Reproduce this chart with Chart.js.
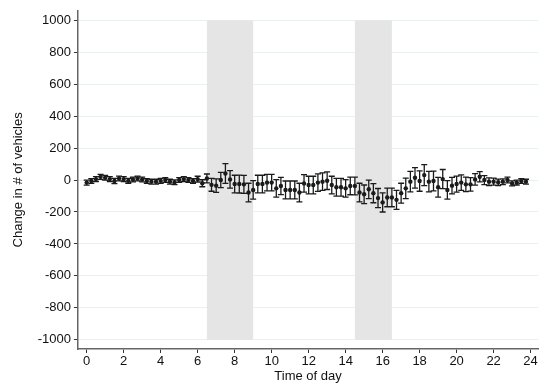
<!DOCTYPE html>
<html>
<head>
<meta charset="utf-8">
<script src="https://cdn.jsdelivr.net/npm/chart.js@4.4.1/dist/chart.umd.min.js"></script>
<style>
  html, body { margin: 0; padding: 0; background: #fff; }
  #wrap { width: 542px; height: 387px; }
</style>
</head>
<body>
<div id="wrap"><canvas id="chart"></canvas></div>
<script>
// time of day (hours), one estimate every 15 minutes
const hours = [
  0, 0.25, 0.5, 0.75, 1, 1.25, 1.5, 1.75, 2, 2.25, 2.5, 2.75,
  3, 3.25, 3.5, 3.75, 4, 4.25, 4.5, 4.75, 5, 5.25, 5.5, 5.75,
  6, 6.25, 6.5, 6.75, 7, 7.25, 7.5, 7.75, 8, 8.25, 8.5, 8.75,
  9, 9.25, 9.5, 9.75, 10, 10.25, 10.5, 10.75, 11, 11.25, 11.5, 11.75,
  12, 12.25, 12.5, 12.75, 13, 13.25, 13.5, 13.75, 14, 14.25, 14.5, 14.75,
  15, 15.25, 15.5, 15.75, 16, 16.25, 16.5, 16.75, 17, 17.25, 17.5, 17.75,
  18, 18.25, 18.5, 18.75, 19, 19.25, 19.5, 19.75, 20, 20.25, 20.5, 20.75,
  21, 21.25, 21.5, 21.75, 22, 22.25, 22.5, 22.75, 23, 23.25, 23.5, 23.75
];

// point estimates: change in # of vehicles
const change = [
  -16, -6, 6, 20, 14, 6, -6, 10, 6, -5, 4, 10,
  4, -6, -10, -10, -5, 0, -10, -14, 0, 6, 0, -6,
  6, -20, 10, -30, -35, 0, 41, 4, -25, -25, -27, -78,
  -62, -25, -25, -16, -16, -52, -37, -62, -62, -62, -78, -21,
  -31, -31, -16, -10, -4, -31, -45, -45, -52, -37, -37, -78,
  -89, -58, -82, -113, -140, -109, -109, -124, -82, -52, -10, 14,
  -6, 31, -10, -6, -45, 6, -62, -35, -25, -16, -27, -27,
  4, 21, 0, -10, -10, -14, -10, 0, -21, -16, -6, -10
];

// half-width of the confidence interval
const ciHalf = [
  16, 15, 15, 16, 15, 15, 16, 15, 15, 15, 15, 15,
  15, 15, 15, 15, 15, 15, 15, 15, 15, 15, 15, 15,
  18, 22, 28, 40, 42, 48, 62, 55, 55, 56, 56, 58,
  58, 55, 55, 52, 52, 55, 54, 56, 56, 56, 58, 55,
  55, 55, 55, 55, 55, 55, 55, 55, 55, 55, 56, 58,
  58, 58, 60, 60, 60, 58, 58, 60, 62, 64, 64, 64,
  64, 66, 64, 62, 62, 60, 58, 52, 50, 48, 45, 42,
  36, 32, 28, 24, 22, 20, 18, 18, 16, 15, 15, 15
];

// shaded peak periods
const bandFrom = [6.5, 14.5];
const bandTo = [9, 16.5];
const bandLow = -1000;
const bandHigh = 1000;

const xTicks = [0, 2, 4, 6, 8, 10, 12, 14, 16, 18, 20, 22, 24];
const yTicks = [-1000, -800, -600, -400, -200, 0, 200, 400, 600, 800, 1000];

const bandsPlugin = {
  id: 'bands',
  beforeDatasetsDraw(chart) {
    const { ctx, scales: { x, y } } = chart;
    ctx.save();
    ctx.fillStyle = '#e5e5e5';
    bandFrom.forEach((from, i) => {
      const x0 = x.getPixelForValue(from);
      const x1 = x.getPixelForValue(bandTo[i]);
      const y0 = y.getPixelForValue(bandHigh);
      const y1 = y.getPixelForValue(bandLow);
      ctx.fillRect(x0, y0, x1 - x0, y1 - y0);
    });
    ctx.restore();
  }
};

const errorBarsPlugin = {
  id: 'errorBars',
  beforeDatasetsDraw(chart) {
    const { ctx, scales: { x, y } } = chart;
    const cap = 3;
    ctx.save();
    ctx.strokeStyle = '#1a1a1a';
    ctx.lineWidth = 1.3;
    ctx.beginPath();
    hours.forEach((h, i) => {
      const px = x.getPixelForValue(h);
      const top = y.getPixelForValue(change[i] + ciHalf[i]);
      const bot = y.getPixelForValue(change[i] - ciHalf[i]);
      ctx.moveTo(px, top); ctx.lineTo(px, bot);
      ctx.moveTo(px - cap, top); ctx.lineTo(px + cap, top);
      ctx.moveTo(px - cap, bot); ctx.lineTo(px + cap, bot);
    });
    ctx.stroke();
    ctx.restore();
  }
};

const tickFont = { family: 'Liberation Sans, Arial, sans-serif', size: 13 };

new Chart(document.getElementById('chart'), {
  type: 'scatter',
  data: {
    datasets: [{
      data: hours.map((h, i) => ({ x: h, y: change[i] })),
      pointRadius: 2.2,
      pointBackgroundColor: '#1a1a1a',
      pointBorderColor: '#1a1a1a',
      pointBorderWidth: 0,
      showLine: false
    }]
  },
  options: {
    responsive: true,
    maintainAspectRatio: false,
    animation: false,
    layout: { padding: { top: 8, right: 0, left: 0, bottom: 0 } },
    plugins: {
      legend: { display: false },
      tooltip: { enabled: false }
    },
    scales: {
      x: {
        type: 'linear',
        min: -0.47,
        max: 24.4,
        afterBuildTicks: s => { s.ticks = xTicks.map(v => ({ value: v })); },
        afterFit: s => { s.height = 38; },
        grid: { display: true, drawOnChartArea: false, drawTicks: true, tickLength: 4, tickColor: '#333' },
        border: { color: '#666', width: 1.5 },
        ticks: { color: '#111', font: tickFont, padding: 1, maxRotation: 0, callback: v => String(v) },
        title: { display: true, text: 'Time of day', color: '#111', font: tickFont, padding: { top: 0, bottom: 3 } }
      },
      y: {
        min: -1058,
        max: 1060,
        afterBuildTicks: s => { s.ticks = yTicks.map(v => ({ value: v })); },
        afterFit: s => { s.width = 78; },
        grid: { color: '#e9f0f0', lineWidth: 1, drawTicks: true, tickLength: 4, tickColor: '#333' },
        border: { color: '#666', width: 1.5 },
        ticks: { color: '#111', font: tickFont, padding: 3, callback: v => String(v) },
        title: { display: true, text: 'Change in # of vehicles', color: '#111', font: tickFont, padding: { top: 11, bottom: 0 } }
      }
    }
  },
  plugins: [bandsPlugin, errorBarsPlugin]
});
</script>
</body>
</html>
